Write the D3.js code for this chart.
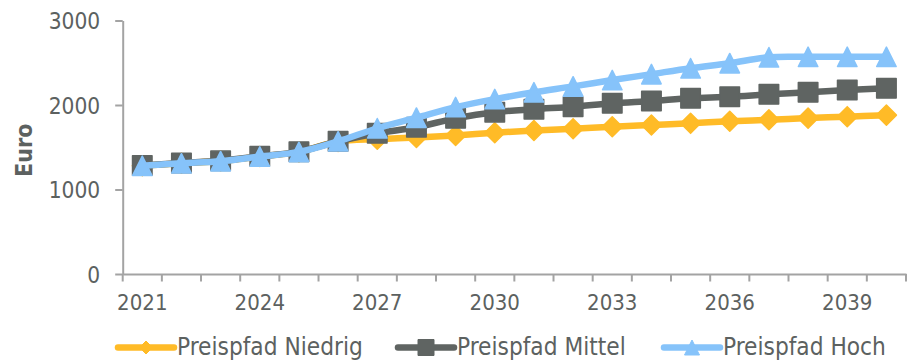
<!DOCTYPE html>
<html>
<head>
<meta charset="utf-8">
<script src="https://cdn.jsdelivr.net/npm/d3@7/dist/d3.min.js"></script>
<style>
  html, body { margin: 0; padding: 0; background: #fff; }
  svg { display: block; }
  text { font-family: "DejaVu Sans Condensed", "DejaVu Sans", sans-serif; fill: #5c6160; }
</style>
</head>
<body>
<svg id="chart" width="907" height="361"></svg>
<script>
// Jahre 2021–2040
const years = d3.range(2021, 2041).map(String);
const yTicks = [0, 1000, 2000, 3000];
const xLabelYears = ["2021", "2024", "2027", "2030", "2033", "2036", "2039"];

// Preispfade in Euro
const niedrig = [1280, 1310, 1337, 1390, 1445, 1568, 1595, 1615, 1640, 1672,
                 1698, 1720, 1743, 1763, 1783, 1808, 1825, 1845, 1862, 1880];
const mittel  = [1285, 1313, 1339, 1393, 1448, 1570, 1665, 1737, 1842, 1915,
                 1950, 1980, 2020, 2047, 2079, 2098, 2126, 2150, 2177, 2197];
const hoch    = [1280, 1310, 1335, 1390, 1445, 1570, 1725, 1850, 1975, 2070,
                 2150, 2220, 2295, 2365, 2435, 2495, 2565, 2570, 2570, 2570];

const seriesNames = ["Preispfad Niedrig", "Preispfad Mittel", "Preispfad Hoch"];
const seriesColors = ["#FFBB27", "#5F6462", "#86C3FA"];
const seriesMarkers = ["diamond", "square", "triangle"];
const seriesValues = [niedrig, mittel, hoch];

const svg = d3.select("#chart");
const axisColor = "#a3a3a3";

const x = d3.scaleBand().domain(years).range([122.7, 906]).padding(0);
const y = d3.scaleLinear().domain([0, 3000]).range([274, 20.5]);

// Y-Achse
const yAxis = svg.append("g").attr("transform", `translate(${x.range()[0]},0)`)
  .call(d3.axisLeft(y).tickValues(yTicks).tickFormat(d3.format("d"))
    .tickSize(7.5).tickSizeOuter(0).tickPadding(15));
yAxis.attr("font-family", null);
yAxis.select(".domain").attr("stroke", axisColor).attr("stroke-width", 2);
yAxis.selectAll(".tick line").attr("stroke", axisColor).attr("stroke-width", 2);
yAxis.selectAll(".tick text").attr("font-size", 22.5).attr("fill", "#5c6160").attr("dy", "0.36em");

// X-Achse: Beschriftung mittig je Jahr, Teilstriche an den Kategoriegrenzen
const xAxis = svg.append("g").attr("transform", `translate(0,${y(0)})`)
  .call(d3.axisBottom(x).tickValues(xLabelYears).tickSize(0).tickSizeOuter(0).tickPadding(20));
xAxis.attr("font-family", null);
xAxis.select(".domain").attr("stroke", axisColor).attr("stroke-width", 2);
xAxis.selectAll(".tick text").attr("font-size", 22).attr("fill", "#5c6160").attr("dy", "0.71em");
const boundaries = years.map(d => x(d)).concat([x.range()[1]]);
svg.append("g").selectAll("line").data(boundaries).join("line")
  .attr("x1", d => d).attr("x2", d => d)
  .attr("y1", y(0)).attr("y2", y(0) + 7.5)
  .attr("stroke", axisColor).attr("stroke-width", 2);

// Achsentitel
svg.append("text")
  .attr("transform", `translate(32,${(y(1000) + y(2000)) / 2 + 3}) rotate(-90)`)
  .attr("text-anchor", "middle")
  .attr("font-size", 23).attr("font-weight", "bold")
  .text("Euro");

// Markerformen
function markerPath(type, s) {
  const h = s / 2;
  if (type === "diamond") return `M0,${-h}L${h},0L0,${h}L${-h},0Z`;
  if (type === "square") return `M${-h},${-h}H${h}V${h}H${-h}Z`;
  return `M0,${-h}L${h},${h}L${-h},${h}Z`;
}

const line = d3.line()
  .x((d, i) => x(years[i]) + x.bandwidth() / 2)
  .y(d => y(d))
  .curve(d3.curveCardinal.tension(0));

seriesValues.forEach((vals, k) => {
  const g = svg.append("g");
  g.append("path").datum(vals)
    .attr("d", line)
    .attr("fill", "none")
    .attr("stroke", seriesColors[k])
    .attr("stroke-width", 6.5)
    .attr("stroke-linejoin", "round");
  const size = seriesMarkers[k] === "diamond" ? 20 : 19.5;
  g.selectAll("path.m").data(vals).join("path")
    .attr("class", "m")
    .attr("transform", (d, i) => `translate(${x(years[i]) + x.bandwidth() / 2},${y(d)})`)
    .attr("d", markerPath(seriesMarkers[k], size))
    .attr("fill", seriesColors[k])
    .attr("stroke", seriesColors[k])
    .attr("stroke-width", 1.5)
    .attr("stroke-linejoin", "round");
});

// Legende
const legendX = [118, 398, 664];
const legendY = 347.5;
seriesNames.forEach((name, k) => {
  const g = svg.append("g").attr("transform", `translate(${legendX[k]},${legendY})`);
  g.append("line").attr("x1", 0).attr("x2", 56).attr("y1", 0).attr("y2", 0)
    .attr("stroke", seriesColors[k]).attr("stroke-width", 6.5).attr("stroke-linecap", "round");
  const ms = seriesMarkers[k] === "diamond" ? 13 : (seriesMarkers[k] === "square" ? 16 : 15);
  g.append("path").attr("transform", "translate(28,0)")
    .attr("d", markerPath(seriesMarkers[k], ms))
    .attr("fill", seriesColors[k]).attr("stroke", seriesColors[k]).attr("stroke-width", 1)
    .attr("stroke-linejoin", "round");
  g.append("text").attr("x", 59).attr("y", 0).attr("dy", "0.3em")
    .attr("font-size", 24.2).text(name);
});
</script>
</body>
</html>
